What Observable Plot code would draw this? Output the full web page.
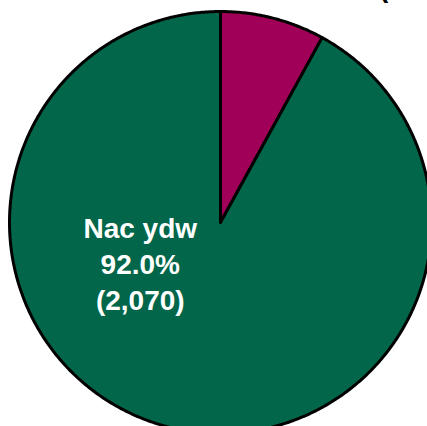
<!DOCTYPE html>
<html><head><meta charset="utf-8">
<script src="https://cdn.jsdelivr.net/npm/d3@7"></script>
<script src="https://cdn.jsdelivr.net/npm/@observablehq/plot@0.6"></script>
<style>html,body{margin:0;padding:0;overflow:hidden;background:#fff} svg{overflow:hidden}</style>
</head><body><div id="chart"></div>
<script>
const categories = ["Ydw", "Nac ydw"];
const counts = [180, 2070];
const percents = [8.0, 92.0];
const colors = ["#A00058", "#02664A"];

const arcs = d3.pie().sort(null).value(d => d)(counts);
const pts = [];
arcs.forEach((a, i) => {
  const n = Math.max(2, Math.ceil((a.endAngle - a.startAngle) / (Math.PI / 360)));
  pts.push({cat: categories[i], u: 0, v: 0});
  for (let k = 0; k <= n; k++) {
    const t = a.startAngle + (a.endAngle - a.startAngle) * k / n;
    pts.push({cat: categories[i], u: Math.sin(t), v: Math.cos(t)});
  }
  pts.push({cat: categories[i], u: 0, v: 0});
});
const labels = arcs.map((a, i) => {
  const mid = (a.startAngle + a.endAngle) / 2;
  return {
    cat: categories[i],
    u: 0.5 * Math.sin(mid),
    v: 0.5 * Math.cos(mid),
    text: `${categories[i]}\n${percents[i].toFixed(1)}%\n(${d3.format(",")(counts[i])})`
  };
});

const font = "Arial, 'Liberation Sans', Helvetica, sans-serif";
const chart = Plot.plot({
  width: 427,
  height: 426,
  margin: 0,
  x: {type: "linear", domain: [-220 / 211, 207 / 211], range: [0, 427], axis: null},
  y: {type: "linear", domain: [-204 / 211, 222 / 211], range: [426, 0], axis: null},
  color: {domain: categories, range: colors},
  marks: [
    Plot.line(pts, {x: "u", y: "v", z: "cat", fill: "cat", stroke: "black", strokeWidth: 3, strokeLinejoin: "round", curve: "linear", clip: true}),
    Plot.text(labels.filter(d => d.cat === "Nac ydw"), {x: "u", y: "v", text: "text", dx: -54, dy: -62, fill: "white", fontSize: 28, fontWeight: "bold", fontFamily: font, lineHeight: 1.29, lineAnchor: "middle"}),
    Plot.text(labels.filter(d => d.cat === "Ydw"), {x: "u", y: "v", text: "text", dx: 165, dy: -123, fill: "black", fontSize: 28, fontWeight: "bold", fontFamily: font, lineHeight: 1.29, lineAnchor: "bottom"})
  ]
});
document.getElementById("chart").appendChild(chart);
</script>
</body></html>
